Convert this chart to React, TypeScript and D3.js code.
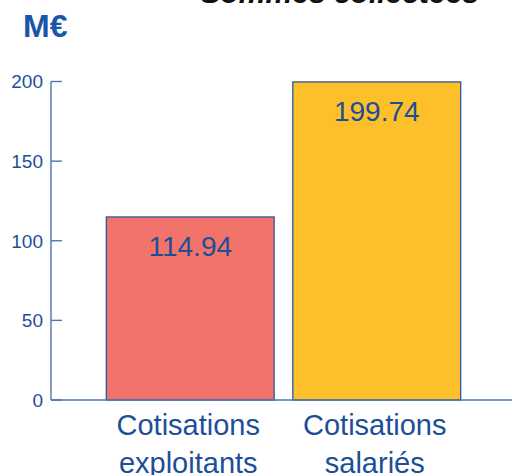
import React from "react";
import * as d3 from "d3";

const categories = [["Cotisations", "exploitants"], ["Cotisations", "salariés"]];
const values = [114.94, 199.74];
const valueLabels = ["114.94", "199.74"];
const barColors = ["#F2736A", "#FDC02A"];
const yTicks = [0, 50, 100, 150, 200];
const title = "Sommes collectées";
const unit = "M€";

const W = 512;
const H = 475;

export default function App() {
  const y = d3.scaleLinear().domain([0, 200]).range([400, 81.5]);
  const x = d3
    .scaleBand<number>()
    .domain(values.map((_, i) => i))
    .range([97, 470])
    .paddingInner(0.1)
    .paddingOuter(0.05);
  const font = "'Liberation Sans', Arial, Helvetica, sans-serif";
  const blue = "#1d4f98";
  const axisColor = "#4f74b4";
  return (
    <svg
      width={W}
      height={H}
      style={{ position: "absolute", left: 0, top: 0, display: "block" }}
      fontFamily={font}
    >
      <rect x={0} y={0} width={W} height={H} fill="#ffffff" />
      <text x={479} y={3} textAnchor="end" fontSize={30} fontWeight="bold" fontStyle="italic" fill="#111">
        {title}
      </text>
      <text x={23} y={37} fontSize={32} fontWeight="bold" fill="#1957a6">
        {unit}
      </text>
      {values.map((v, i) => (
        <g key={i}>
          <rect
            x={x(i)}
            y={y(v)}
            width={x.bandwidth()}
            height={y(0) - y(v)}
            fill={barColors[i]}
            stroke="#2b5aa0"
            strokeWidth={1.3}
          />
          <text
            x={(x(i) as number) + x.bandwidth() / 2}
            y={y(v) + 39}
            textAnchor="middle"
            fontSize={28}
            fill={blue}
          >
            {valueLabels[i]}
          </text>
          {categories[i].map((line, j) => (
            <text
              key={j}
              x={(x(i) as number) + x.bandwidth() / 2 - 2}
              y={435 + j * 38}
              textAnchor="middle"
              fontSize={29}
              fill={blue}
            >
              {line}
            </text>
          ))}
        </g>
      ))}
      <line x1={51} x2={51} y1={y(200)} y2={y(0)} stroke={axisColor} strokeWidth={1.4} />
      <line x1={51} x2={W} y1={y(0)} y2={y(0)} stroke={axisColor} strokeWidth={1.4} />
      {yTicks.map((t) => (
        <g key={t}>
          <line x1={51} x2={62} y1={y(t)} y2={y(t)} stroke={axisColor} strokeWidth={1.4} />
          <text x={43} y={y(t)} dy="0.36em" textAnchor="end" fontSize={19} fill={blue}>
            {t}
          </text>
        </g>
      ))}
    </svg>
  );
}
